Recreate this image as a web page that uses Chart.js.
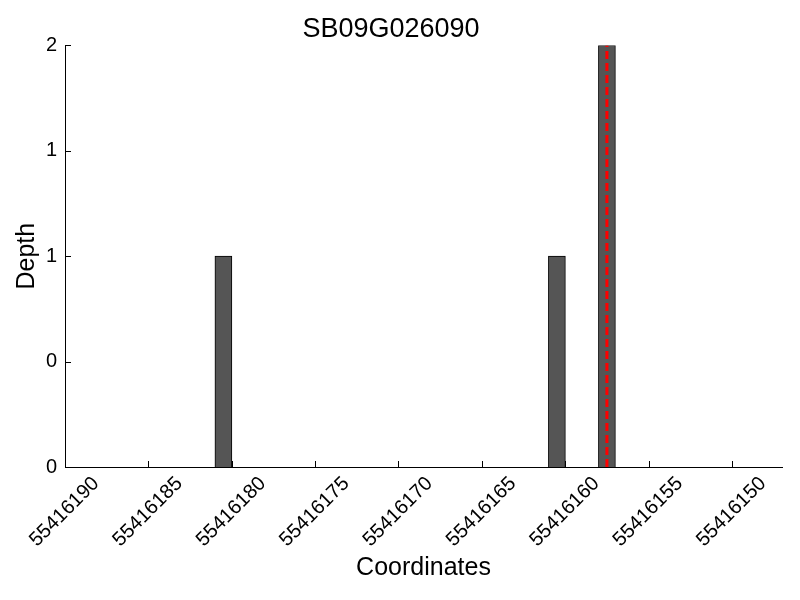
<!DOCTYPE html>
<html lang="en">
  <head>
    <meta charset="UTF-8" />
    <title>SB09G026090</title>
    <script src="https://cdn.jsdelivr.net/npm/chart.js@4.4.0/dist/chart.umd.min.js"></script>
    <style>
      html,
      body {
        margin: 0;
        padding: 0;
        background: #fff;
      }
    </style>
  </head>
  <body>
    <canvas id="depthChart" width="800" height="600"></canvas>

    <script>
      const geneName = "SB09G026090";
      // bar centres (each bar covers one coordinate)
      const barCenters = [55416180.5, 55416160.5, 55416157.5];
      const depths = [1, 1, 2];
      const markerPos = 55416157.5;
      const xTicks = [
        55416190, 55416185, 55416180, 55416175, 55416170, 55416165,
        55416160, 55416155, 55416150,
      ];
      const yTicks = [0, 0.5, 1, 1.5, 2];
      const xMin = 55416147;
      const xMax = 55416190;

      const fontFamily = "'Liberation Sans', Arial, sans-serif";

      // matplotlib style ticks pointing into the plot
      const innerTicks = {
        id: "innerTicks",
        beforeDatasetsDraw(chart) {
          const ctx = chart.ctx;
          const xs = chart.scales.x;
          const ys = chart.scales.y;
          ctx.save();
          ctx.strokeStyle = "#000";
          ctx.lineWidth = 1;
          ctx.beginPath();
          xs.ticks.forEach((t) => {
            const px = Math.round(xs.getPixelForValue(t.value)) + 0.5;
            ctx.moveTo(px, ys.bottom);
            ctx.lineTo(px, ys.bottom - 6);
          });
          ys.ticks.forEach((t) => {
            const py = Math.round(ys.getPixelForValue(t.value)) + 0.5;
            ctx.moveTo(xs.left, py);
            ctx.lineTo(xs.left + 6, py);
          });
          ctx.stroke();
          ctx.restore();
        },
      };

      new Chart(document.getElementById("depthChart"), {
        type: "bar",
        data: {
          datasets: [
            {
              type: "line",
              data: [
                { x: markerPos, y: 0 },
                { x: markerPos, y: 2 },
              ],
              borderColor: "#ff0000",
              borderWidth: 3,
              borderDash: [8, 4],
              pointRadius: 0,
              order: 1,
            },
            {
              type: "bar",
              data: barCenters.map((x, i) => ({ x: x, y: depths[i] })),
              backgroundColor: "#555555",
              borderColor: "#000",
              borderWidth: 1,
              barThickness: 17,
              order: 2,
            },
          ],
        },
        options: {
          responsive: false,
          animation: false,
          layout: { padding: { top: 0, left: 0, right: 18, bottom: 0 } },
          plugins: {
            legend: { display: false },
            tooltip: { enabled: false },
            title: {
              display: true,
              text: geneName,
              color: "#000",
              font: { family: fontFamily, size: 27, weight: "normal" },
              padding: { top: 13, bottom: 0 },
            },
          },
          scales: {
            x: {
              type: "linear",
              reverse: true,
              min: xMin,
              max: xMax,
              offset: false,
              afterBuildTicks: (s) => {
                s.ticks = xTicks.map((v) => ({ value: v }));
              },
              afterFit: (s) => {
                s.height = 133;
                s.paddingLeft = 0;
                s.paddingRight = 0;
              },
              grid: { display: false, drawTicks: false, tickLength: 0 },
              border: { display: true, color: "#000", width: 1 },
              ticks: {
                autoSkip: false,
                minRotation: 45,
                maxRotation: 45,
                padding: 5,
                labelOffset: 31,
                color: "#000",
                font: { family: fontFamily, size: 20 },
                callback: (v) => String(v),
              },
              title: {
                display: true,
                text: "Coordinates",
                color: "#000",
                font: { family: fontFamily, size: 25 },
                padding: { top: 0, bottom: 17 },
              },
            },
            y: {
              min: 0,
              max: 2,
              afterBuildTicks: (s) => {
                s.ticks = yTicks.map((v) => ({ value: v }));
              },
              afterFit: (s) => {
                s.width = 65;
                s.paddingTop = 0;
                s.paddingBottom = 0;
              },
              grid: { display: false, drawTicks: false, tickLength: 0 },
              border: { display: true, color: "#000", width: 1 },
              ticks: {
                padding: 8,
                color: "#000",
                font: { family: fontFamily, size: 20 },
                callback: (v) => String(Math.floor(v)),
              },
              title: {
                display: true,
                text: "Depth",
                color: "#000",
                font: { family: fontFamily, size: 25 },
                padding: { top: 12, bottom: 0 },
              },
            },
          },
        },
        plugins: [innerTicks],
      });
    </script>
  </body>
</html>
